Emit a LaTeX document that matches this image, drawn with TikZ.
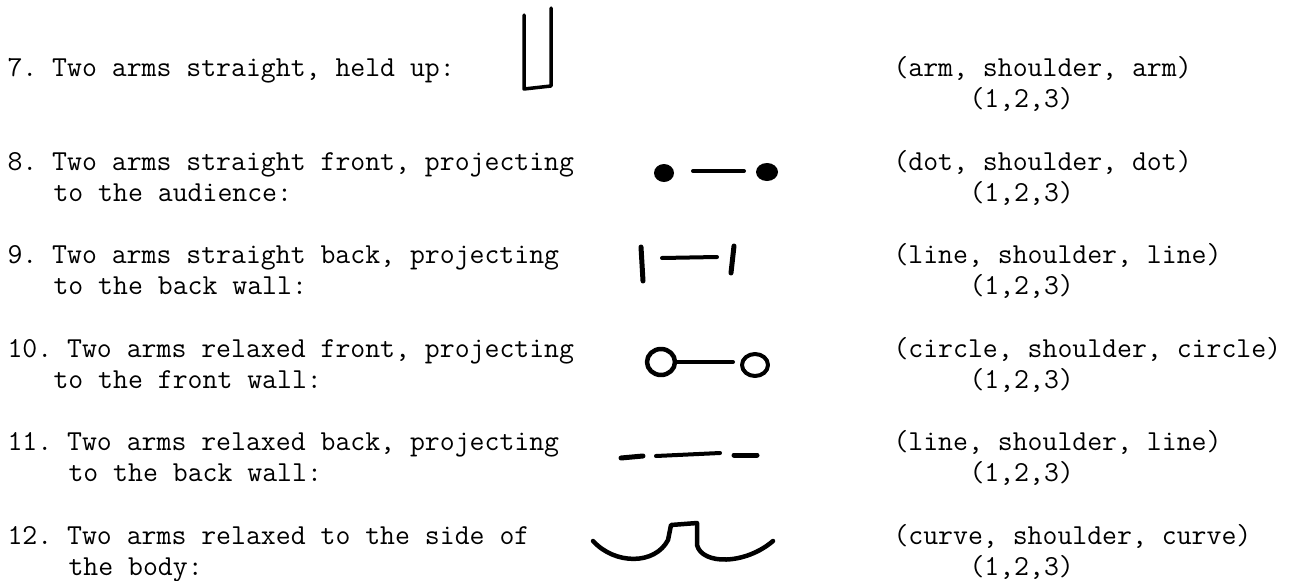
\documentclass[tikz,border=0pt]{standalone}
\usepackage{fontspec}
\usepackage{tikz}
\usetikzlibrary{positioning}

\begin{document}
\begin{tikzpicture}[
    x=0.4pt, y=-0.4pt,
    txt/.style={anchor=base west, inner sep=0pt, font=\ttfamily\fontsize{11.58}{13.9}\selectfont\frenchspacing},
    pen/.style={line width=#1, line cap=round, line join=round},
    pen/.default=1.6pt,
]
\useasboundingbox (0,0) rectangle (1299,580);

% Descriptions
\node[txt] (desc7) at (7,76) {7. Two arms straight, held up:};
\node[txt] (desc8) at (7,170) {8. Two arms straight front, projecting};
\node[txt] (desc8b) at (53,201) {to the audience:};
\node[txt] (desc9) at (7,263) {9. Two arms straight back, projecting};
\node[txt] (desc9b) at (53,294) {to the back wall:};
\node[txt] (desc10) at (7,357) {10. Two arms relaxed front, projecting};
\node[txt] (desc10b) at (53,388) {to the front wall:};
\node[txt] (desc11) at (7,450) {11. Two arms relaxed back, projecting};
\node[txt] (desc11b) at (68,481) {to the back wall:};
\node[txt] (desc12) at (7,544) {12. Two arms relaxed to the side of};
\node[txt] (desc12b) at (68,575) {the body:};

% Parts and order
\node[txt] (parts7) at (893,76) {(arm, shoulder, arm)};
\node[txt] (order7) at (969,107) {(1,2,3)};
\node[txt] (parts8) at (893,170) {(dot, shoulder, dot)};
\node[txt] (order8) at (969,201) {(1,2,3)};
\node[txt] (parts9) at (893,263) {(line, shoulder, line)};
\node[txt] (order9) at (969,294) {(1,2,3)};
\node[txt] (parts10) at (893,357) {(circle, shoulder, circle)};
\node[txt] (order10) at (969,388) {(1,2,3)};
\node[txt] (parts11) at (893,450) {(line, shoulder, line)};
\node[txt] (order11) at (969,481) {(1,2,3)};
\node[txt] (parts12) at (893,544) {(curve, shoulder, curve)};
\node[txt] (order12) at (969,575) {(1,2,3)};

% Glyphs
\draw[pen=1.4pt] (524,15) -- (524,89) -- (551,86) -- (551,8);

\fill (664,173) ellipse [x radius=10, y radius=9];
\draw[pen] (693,171) -- (744,171);
\fill (767,172) ellipse [x radius=11, y radius=9];

\draw[pen=2pt] (641,247) -- (643,281);
\draw[pen] (662,258) -- (717,257);
\draw[pen=2pt] (734,246) -- (731,273);

\draw[pen=1.8pt] (661,362) ellipse [x radius=14, y radius=13];
\draw[pen] (676,362) -- (733,362);
\draw[pen=1.6pt] (755,365) ellipse [x radius=13, y radius=11];

\draw[pen=2pt] (621,458) -- (643,456);
\draw[pen] (656,456) -- (720,453);
\draw[pen=2pt] (734,455) -- (757,455);

\draw[pen=1.8pt] (593,541) .. controls (615,565) and (655,565) .. (668,540)
  -- (671,525) -- (697,523) -- (697,545)
  .. controls (702,565) and (745,565) .. (773,541);

\end{tikzpicture}
\end{document}
